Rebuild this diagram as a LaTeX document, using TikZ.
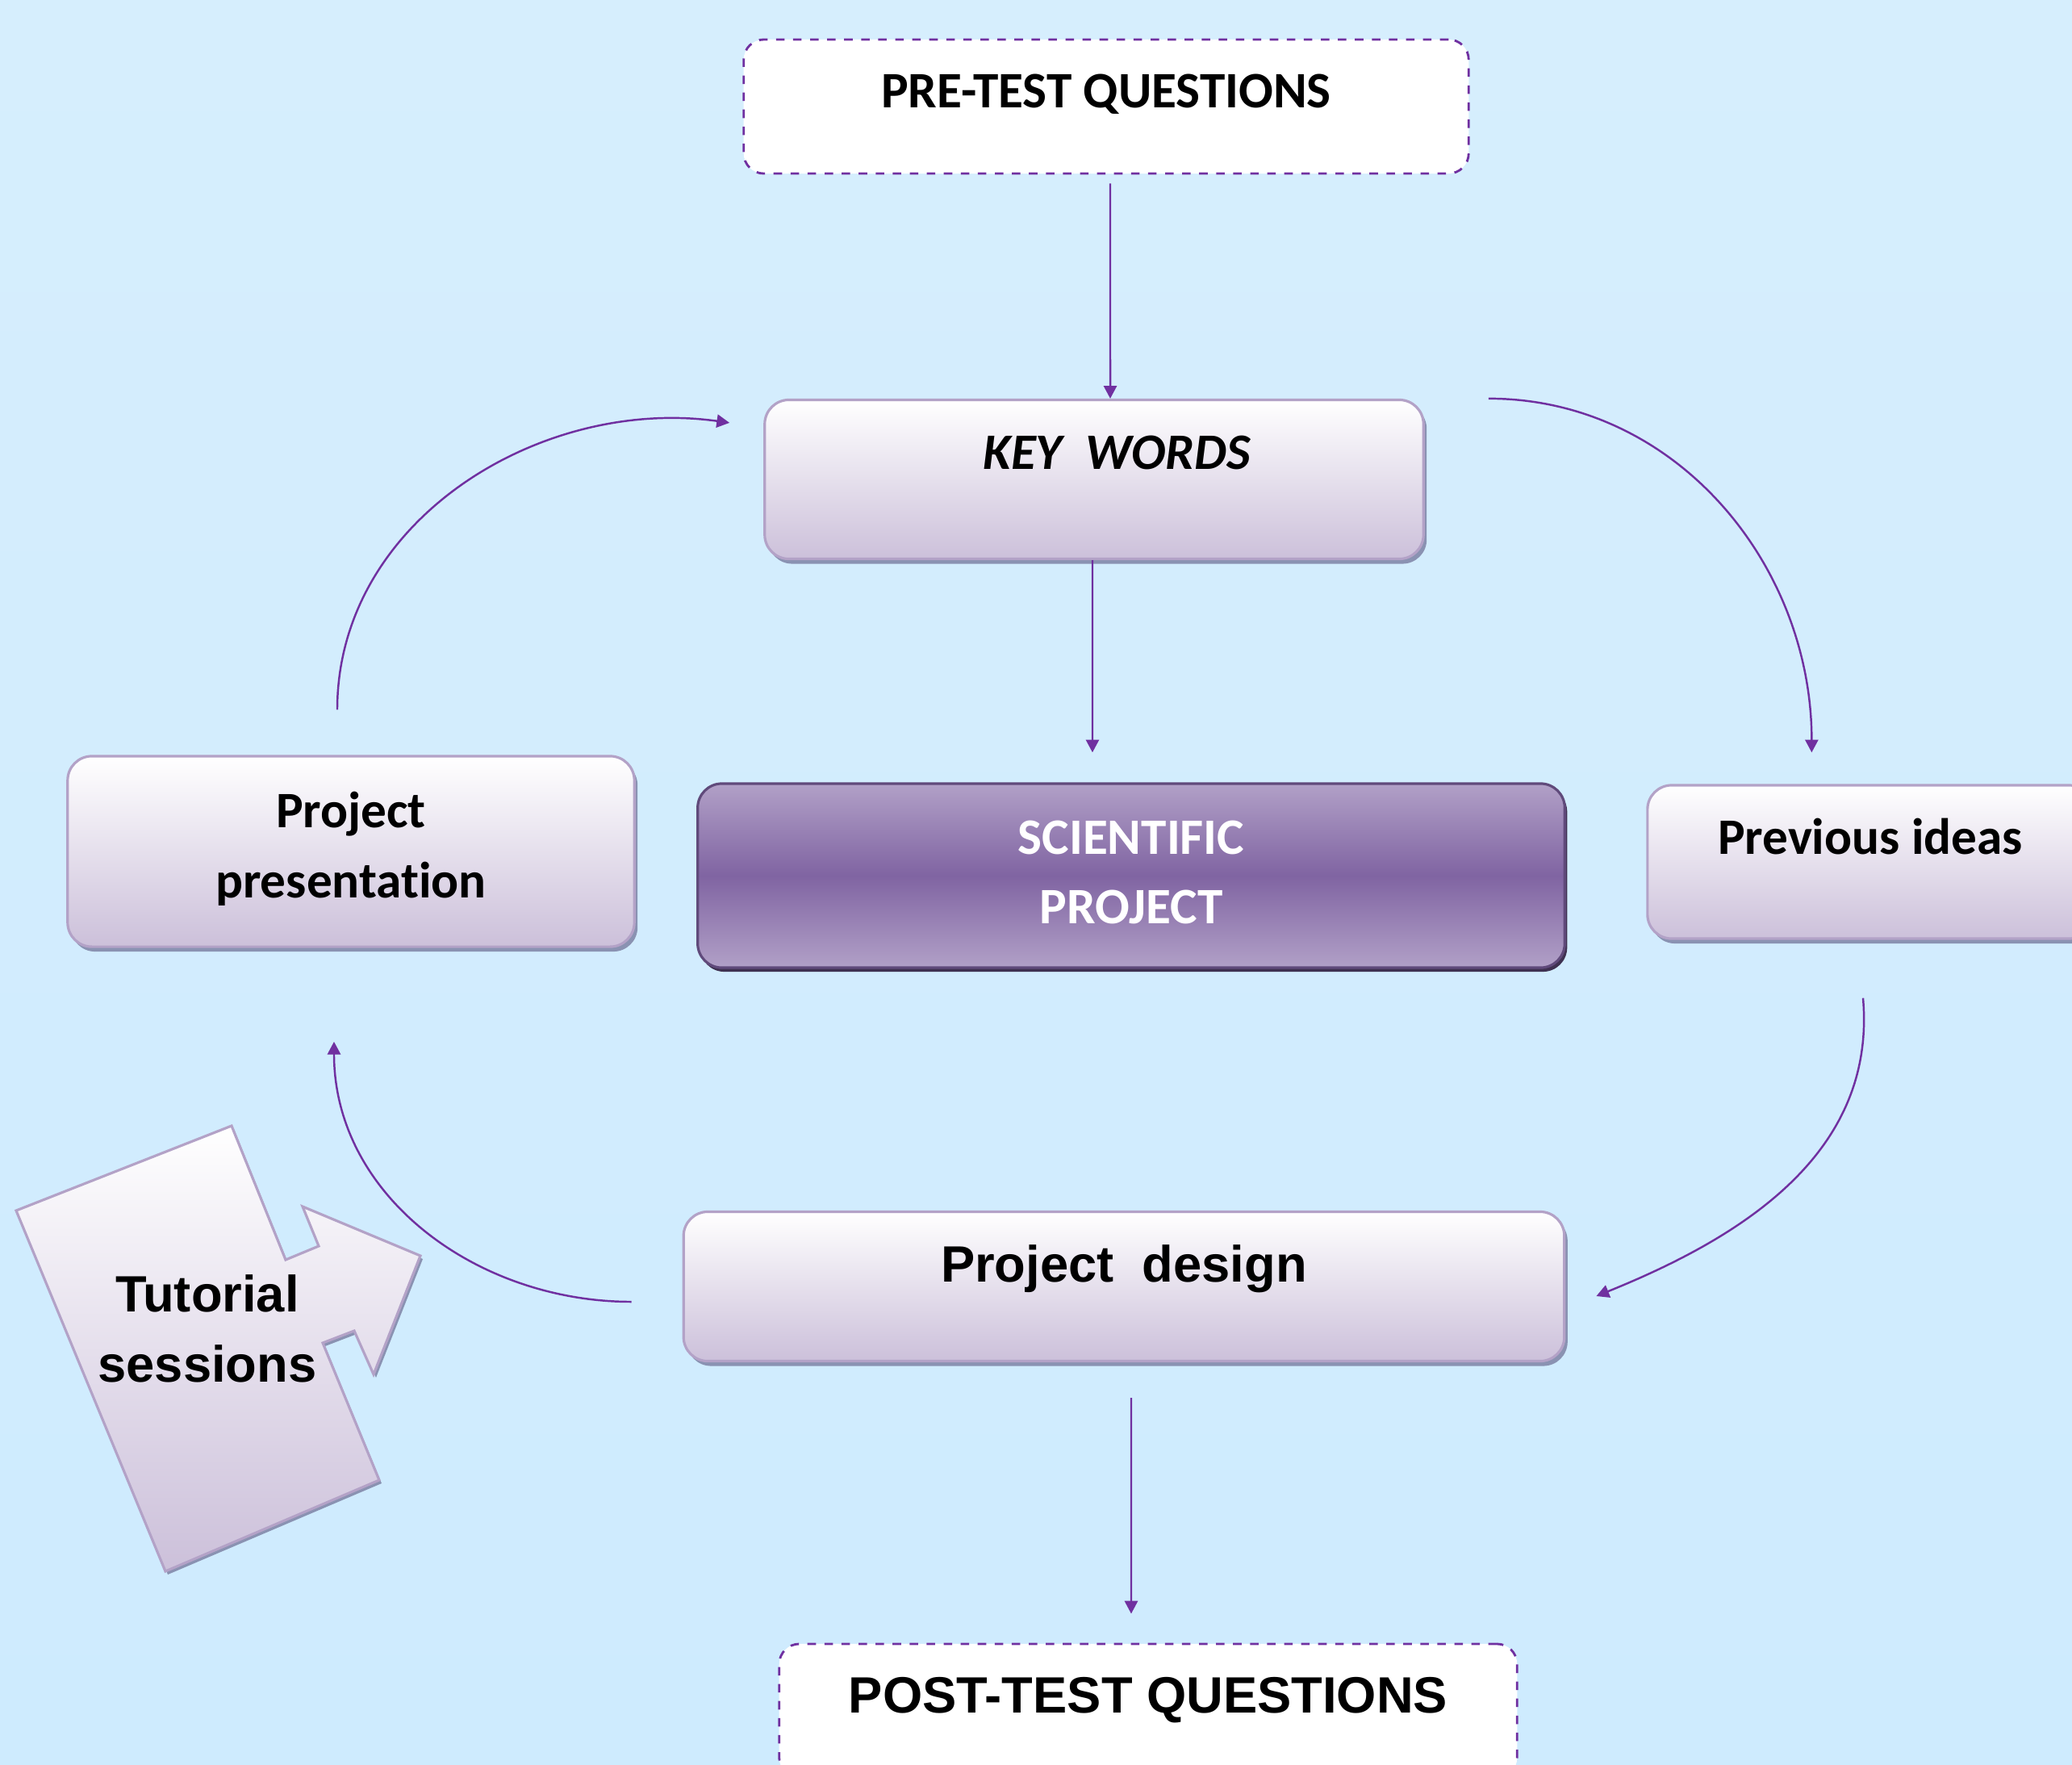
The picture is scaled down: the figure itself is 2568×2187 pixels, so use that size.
\documentclass[tikz,border=0pt]{standalone}
\usepackage{fontspec}
\setmainfont{Carlito}[Ligatures=NoCommon]
\newfontfamily\arialfont{Liberation Sans}
\usepackage{tikz}
\usetikzlibrary{arrows.meta,calc,shadows}
\definecolor{bgtop}{RGB}{214,238,253}
\definecolor{bgbot}{RGB}{206,235,254}
\definecolor{flowcol}{RGB}{112,48,160}
\definecolor{boxfill}{RGB}{204,192,218}
\definecolor{boxline}{RGB}{179,162,199}
\definecolor{boxshade}{RGB}{138,146,178}
\definecolor{scilight}{RGB}{177,160,199}
\definecolor{scidark}{RGB}{128,100,162}
\definecolor{sciline}{RGB}{96,74,123}
\definecolor{scishade}{RGB}{63,49,81}

\begin{document}
\begin{tikzpicture}
    [x=0.01cm, y=-0.01cm,
     font=\fontsize{18}{24.7}\selectfont\bfseries,
     >={Triangle[length=4.5pt,width=4.6pt]},
     flow/.style={->, draw=flowcol, line width=0.7pt},
     arial/.style={font=\fontsize{18}{24.7}\selectfont\arialfont\bfseries},
     lift/.style={text height=13pt, text depth=#1},
     testbox/.style={rectangle, rounded corners=0.25cm, draw=flowcol, dashed,
       line width=0.8pt, fill=white, inner sep=0pt},
     stagebox/.style={rectangle, rounded corners=0.3cm, draw=boxline,
       line width=0.9pt, top color=white, bottom color=boxfill,
       drop shadow={shadow xshift=0.04cm, shadow yshift=-0.06cm, fill=boxshade, opacity=1},
       inner sep=0pt, align=center},
     corebox/.style={rectangle, rounded corners=0.3cm, draw=sciline,
       line width=0.9pt, top color=scilight, bottom color=scilight, middle color=scidark,
       drop shadow={shadow xshift=0.03cm, shadow yshift=-0.05cm, fill=scishade, opacity=1},
       inner sep=0pt, align=center, text=white},
     tutshape/.style={draw=boxline, line width=0.9pt, top color=white, bottom color=boxfill,
       drop shadow={shadow xshift=0.03cm, shadow yshift=-0.04cm, fill=boxshade, opacity=1}}]
    % frame
    \useasboundingbox (0,0) rectangle (2568,2187);
    \clip (0,0) rectangle (2568,2187);
    \shade[top color=bgtop, bottom color=bgbot] (0,0) rectangle (2568,2187);
    % tests
    \node[testbox, lift=12.2pt, minimum width=8.98cm, minimum height=1.66cm] (pre) at (1371,132) {PRE-TEST QUESTIONS};
    \node[testbox, arial, lift=11.5pt, minimum width=9.14cm, minimum height=1.66cm] (post) at (1423,2120) {POST-TEST QUESTIONS};
    % stages
    \node[stagebox, lift=19.9pt, minimum width=8.16cm, minimum height=1.97cm] (key) at (1356,594) {\itshape\hspace*{0.56cm}KEY~~WORDS};
    \node[corebox, minimum width=10.74cm, minimum height=2.28cm] (sci) at (1402,1085) {SCIENTIFIC\\PROJECT\vspace*{0.08cm}};
    \node[stagebox, lift=18.5pt, minimum width=5.52cm, minimum height=1.90cm] (prev) at (2318,1068) {Previous ideas};
    \node[stagebox, minimum width=7.02cm, minimum height=2.36cm] (pres) at (435,1055) {Project\\presentation\vspace*{0.06cm}};
    \node[stagebox, arial, lift=16.3pt, minimum width=10.91cm, minimum height=1.85cm] (design) at (1393,1594) {Project~~design};
    % tutorial
    \path[tutshape] (20,1500) -- (287,1395) -- (354,1561) -- (395,1544) -- (375,1495)
      -- (521,1556) -- (463,1703) -- (439,1649) -- (400,1664) -- (470,1834) -- (205,1947) -- cycle;
    \node[arial, align=center] (tut) at (257,1646) {Tutorial\\sessions};
    % straight
    \draw[flow] ([xshift=0.05cm,yshift=-0.11cm]pre.south) -- ([xshift=0.2cm]key.north);
    \draw[flow] ([xshift=-0.02cm]key.south) -- ([xshift=-0.48cm,yshift=0.37cm]sci.north);
    \draw[flow] ([xshift=0.09cm,yshift=-0.44cm]design.south) -- ([xshift=-0.21cm,yshift=0.36cm]post.north);
    % cycle
    \draw[flow] ([xshift=0.79cm]key.north east) to[out=0,in=90] ([xshift=2.05cm,yshift=0.39cm]prev.north west);
    \draw[flow] ([xshift=-0.09cm,yshift=-0.72cm]prev.south) to[out=-85,in=22] ([xshift=0.38cm,yshift=-0.12cm]design.east);
    \draw[flow] ([xshift=-0.63cm,yshift=-0.19cm]design.west) to[out=180,in=-90] ([xshift=-0.21cm,yshift=-1.16cm]pres.south);
    \draw[flow] ([xshift=-0.17cm,yshift=0.56cm]pres.north) to[out=90,in=172] ([xshift=-0.42cm,yshift=-0.30cm]key.north west);
\end{tikzpicture}
\end{document}
